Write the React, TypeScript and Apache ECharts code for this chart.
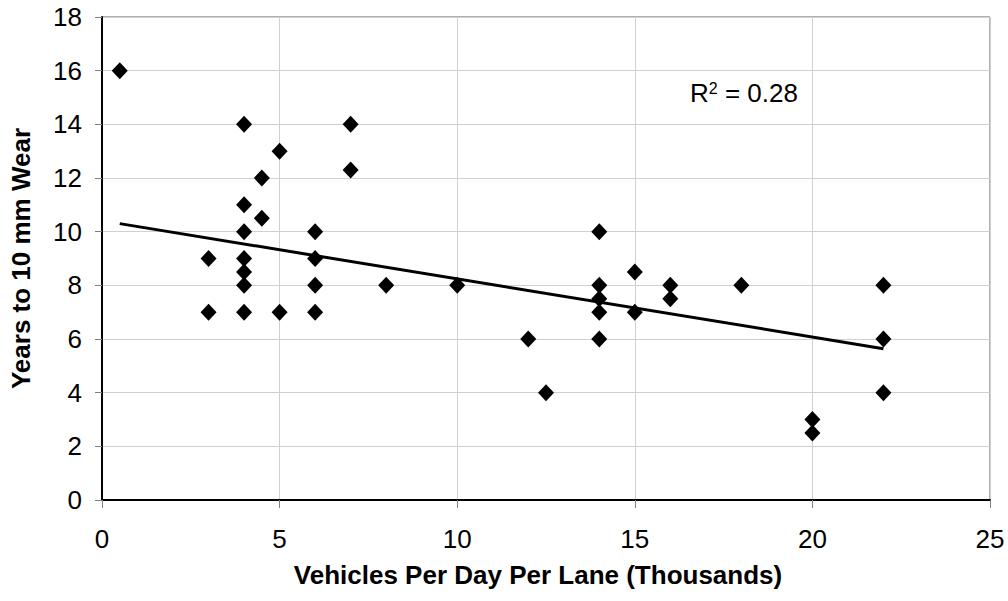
import React, { useEffect, useRef } from "react";
import * as echarts from "echarts";

const vehiclesPerDay: number[] = [
  0.5, 3, 3, 4, 4, 4, 4, 4, 4, 4, 4.5, 4.5, 5, 5, 6, 6, 6, 6, 7, 7, 8, 10, 12, 12.5,
  14, 14, 14, 14, 14, 15, 15, 16, 16, 18, 20, 20, 22, 22, 22,
];
const yearsToWear: number[] = [
  16, 9, 7, 14, 11, 10, 9, 8.5, 8, 7, 12, 10.5, 13, 7, 10, 9, 8, 7, 14, 12.3, 8, 8, 6, 4,
  10, 8, 7.5, 7, 6, 8.5, 7, 8, 7.5, 8, 3, 2.5, 8, 6, 4,
];
const trendX: number[] = [0.5, 22];
const trendY: number[] = [10.3, 5.64];
const xTicks = { min: 0, max: 25, interval: 5 };
const yTicks = { min: 0, max: 18, interval: 2 };
const xTitle = "Vehicles Per Day Per Lane (Thousands)";
const yTitle = "Years to 10 mm Wear";
const rSquared = "0.28";

export default function App() {
  const ref = useRef<HTMLDivElement>(null);
  useEffect(() => {
    document.body.style.margin = "0";
    if (!ref.current) return;
    const chart = echarts.init(ref.current, null, { renderer: "svg" });
    const font = "Arial, 'Liberation Sans', sans-serif";
    chart.setOption({
      animation: false,
      backgroundColor: "#ffffff",
      textStyle: { fontFamily: font },
      grid: {
        left: 102,
        right: 18,
        top: 17,
        bottom: 101,
        show: true,
        borderColor: "#606060",
        borderWidth: 1,
        backgroundColor: "transparent",
      },
      xAxis: {
        type: "value",
        min: xTicks.min,
        max: xTicks.max,
        interval: xTicks.interval,
        name: xTitle,
        nameLocation: "middle",
        nameGap: 62,
        nameTextStyle: {
          fontSize: 26,
          fontWeight: "bold",
          color: "#000",
          fontFamily: font,
          padding: [0, 16, 0, 0],
        },
        axisLine: { show: true, onZero: false, lineStyle: { color: "#000", width: 2 } },
        axisTick: { show: true, inside: false, length: 8, lineStyle: { color: "#808080" } },
        axisLabel: { fontSize: 26, color: "#000", margin: 26, fontFamily: font },
        splitLine: { show: true, lineStyle: { color: "#d0d0d0", width: 1 } },
      },
      yAxis: {
        type: "value",
        min: yTicks.min,
        max: yTicks.max,
        interval: yTicks.interval,
        name: yTitle,
        nameLocation: "middle",
        nameGap: 68,
        nameRotate: 90,
        nameTextStyle: { fontSize: 26, fontWeight: "bold", color: "#000", fontFamily: font },
        axisLine: { show: true, onZero: false, lineStyle: { color: "#000", width: 2 } },
        axisTick: { show: true, inside: false, length: 7, lineStyle: { color: "#808080" } },
        axisLabel: { fontSize: 26, color: "#000", margin: 20, fontFamily: font },
        splitLine: { show: true, lineStyle: { color: "#d0d0d0", width: 1 } },
      },
      series: [
        {
          type: "line",
          data: trendX.map((x, i) => [x, trendY[i]]),
          showSymbol: false,
          symbol: "none",
          lineStyle: { color: "#000", width: 3 },
          silent: true,
          z: 3,
        },
        {
          type: "scatter",
          data: vehiclesPerDay.map((x, i) => [x, yearsToWear[i]]),
          symbol: "diamond",
          symbolSize: [16, 17],
          itemStyle: { color: "#000", opacity: 1 },
          z: 4,
        },
      ],
      graphic: [
        {
          type: "text",
          left: 690,
          top: 80,
          style: {
            text: "R{sup|2} = " + rSquared,
            fontSize: 26,
            fontFamily: font,
            fill: "#000",
            rich: {
              sup: { fontSize: 16, verticalAlign: "top", padding: [0, 0, 10, 0], fill: "#000", fontFamily: font },
            },
          },
        },
      ],
    });
    return () => chart.dispose();
  }, []);
  return <div ref={ref} style={{ width: 1008, height: 601 }} />;
}
